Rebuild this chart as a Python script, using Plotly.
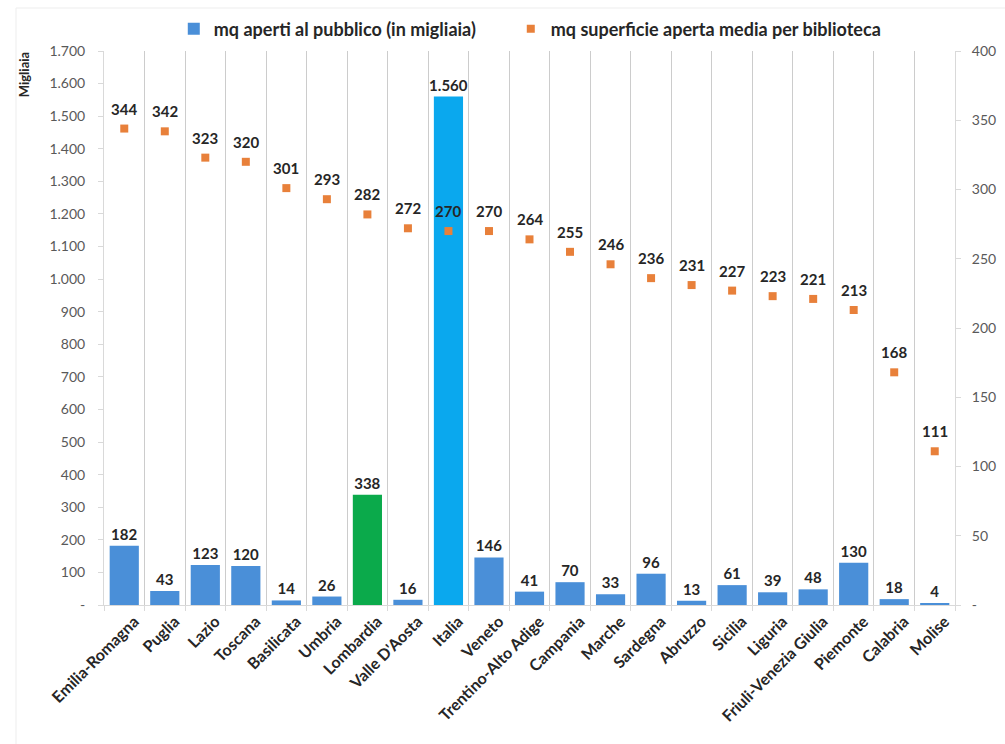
import plotly.graph_objects as go

regioni = ["Emilia-Romagna", "Puglia", "Lazio", "Toscana", "Basilicata", "Umbria",
           "Lombardia", "Valle D'Aosta", "Italia", "Veneto", "Trentino-Alto Adige",
           "Campania", "Marche", "Sardegna", "Abruzzo", "Sicilia", "Liguria",
           "Friuli-Venezia Giulia", "Piemonte", "Calabria", "Molise"]
mq_aperti = [182, 43, 123, 120, 14, 26, 338, 16, 1560, 146, 41, 70, 33, 96, 13,
             61, 39, 48, 130, 18, 4]
mq_medi = [344, 342, 323, 320, 301, 293, 282, 272, 270, 270, 264, 255, 246, 236,
           231, 227, 223, 221, 213, 168, 111]

left_ticks = list(range(0, 1800, 100))
left_labels = ["-"] + [f"{v:,}".replace(",", ".") for v in left_ticks[1:]]
right_ticks = list(range(0, 450, 50))
right_labels = ["-"] + [str(v) for v in right_ticks[1:]]

BLUE = "#4A8FD8"
GREEN = "#0BAA4B"
CYAN = "#0AA8EE"
ORANGE = "#E8803A"
FONT = "Lato"
LABEL_FONT = dict(family=FONT, size=15, color="#262626", weight="bold")
LEGEND_FONT = dict(family=FONT, size=18, color="#262626", weight="bold")

bar_colors = []
for r in regioni:
    if r == "Lombardia":
        bar_colors.append(GREEN)
    elif r == "Italia":
        bar_colors.append(CYAN)
    else:
        bar_colors.append(BLUE)

fig = go.Figure()
fig.add_trace(go.Bar(
    x=regioni, y=mq_aperti, name="mq aperti al pubblico (in migliaia)",
    marker=dict(color=bar_colors, line=dict(width=0)),
    text=mq_aperti, texttemplate="%{y:,}", textposition="outside",
    textfont=LABEL_FONT, constraintext="none", cliponaxis=False,
    legend="legend",
))
fig.add_trace(go.Scatter(
    x=regioni, y=mq_medi, yaxis="y2", mode="markers",
    name="mq superficie aperta media per biblioteca",
    marker=dict(symbol="square", size=8, color=ORANGE),
    cliponaxis=False, legend="legend2",
))

# value labels above the orange markers
labels = [dict(x=r, y=v, xref="x", yref="y2", text=str(v), showarrow=False,
               yanchor="bottom", yshift=9, font=LABEL_FONT)
          for r, v in zip(regioni, mq_medi)]

legend_common = dict(orientation="h", xanchor="left", yref="container",
                     y=1 - 29 / 744, yanchor="middle", font=LEGEND_FONT,
                     itemwidth=30, bgcolor="rgba(0,0,0,0)")

fig.update_layout(
    width=1005, height=744,
    margin=dict(l=104, r=50, t=51, b=139, autoexpand=False),
    paper_bgcolor="white", plot_bgcolor="white",
    separators=",.",
    bargap=0.28,
    font=dict(family=FONT, color="#595959"),
    showlegend=True,
    legend=dict(x=0.082, **legend_common),
    legend2=dict(x=0.478, **legend_common),
    xaxis=dict(
        type="category", range=[-0.5, len(regioni) - 0.5],
        tickson="boundaries", showgrid=True, automargin=False,
        gridcolor="#CCCCCC", gridwidth=1, ticks="outside", ticklen=5,
        tickcolor="#D9D9D9", tickangle=-45, ticklabelshift=10,
        tickfont=dict(family=FONT, size=16, color="#262626", weight="bold"),
        showline=True, linecolor="#D9D9D9", zeroline=False,
    ),
    yaxis=dict(
        range=[0, 1700], tickvals=left_ticks, ticktext=left_labels,
        showgrid=False, zeroline=False, showline=True, linecolor="#D9D9D9",
        ticks="outside", ticklen=5, tickcolor="#D9D9D9", automargin=False,
        ticklabelstandoff=10,
        tickfont=dict(family=FONT, size=14, color="#595959"),
    ),
    yaxis2=dict(
        range=[0, 400], tickvals=right_ticks, ticktext=right_labels,
        overlaying="y", side="right", showgrid=False, zeroline=False,
        showline=True, linecolor="#D9D9D9", ticks="outside", ticklen=5,
        tickcolor="#D9D9D9", automargin=False, ticklabelstandoff=8,
        tickfont=dict(family=FONT, size=14, color="#595959"),
    ),
    annotations=labels + [dict(
        text="Migliaia", xref="paper", yref="paper", x=-0.093, y=1.002,
        xanchor="center", yanchor="top", textangle=-90, showarrow=False,
        font=dict(family=FONT, size=13, color="#262626", weight="bold"),
    )],
    shapes=[dict(
        type="rect", xref="paper", yref="paper", x0=-0.1034, x1=1.2,
        y0=-0.4, y1=1.0776, line=dict(color="#EDEDED", width=1), layer="below",
    )],
)

fig.write_html("out.html")
